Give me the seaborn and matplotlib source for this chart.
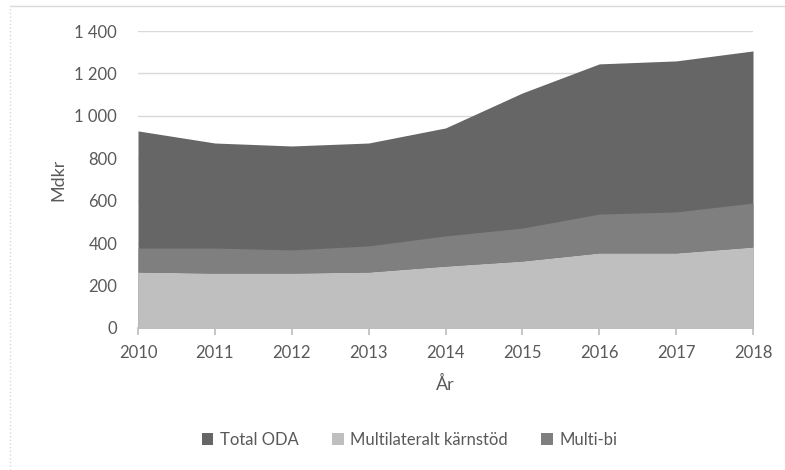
import numpy as np
import pandas as pd
import matplotlib
matplotlib.use("Agg")
import matplotlib.pyplot as plt
import seaborn as sns
from matplotlib.ticker import FuncFormatter
from matplotlib.lines import Line2D
from matplotlib.patches import Patch

# data (Mdkr)
years = [2010, 2011, 2012, 2013, 2014, 2015, 2016, 2017, 2018]
total_oda = [929, 872, 858, 872, 943, 1108, 1245, 1259, 1306]
multilateralt = [264, 259, 259, 264, 292, 316, 354, 354, 382]
multi_bi = [113, 118, 109, 123, 142, 155, 183, 193, 207]

labels = ['Total ODA', 'Multilateralt kärnstöd', 'Multi-bi']
colors = ['#666666', '#bfbfbf', '#7f7f7f']

df = pd.DataFrame({'year': years, 'total': total_oda,
                   'multi': multilateralt, 'multibi': multi_bi})

sns.set_theme(style='white')
plt.rcParams['font.family'] = ['Lato', 'DejaVu Sans']
text_col = '#595959'

fig = plt.figure(figsize=(7.85, 4.70), dpi=100)
ax = fig.add_axes([138 / 785, 1 - 328 / 470, (753 - 138) / 785, (328 - 31) / 470])

ax.fill_between(df['year'], 0, df['total'], color=colors[0], lw=0, zorder=2)
ax.stackplot(df['year'], df['multi'], df['multibi'],
             colors=[colors[1], colors[2]], lw=0, zorder=3)

ax.set_xlim(2010, 2018)
ax.set_ylim(0, 1400)
ax.set_xticks(years)
ax.set_yticks(range(0, 1401, 200))
ax.yaxis.set_major_formatter(FuncFormatter(lambda v, p: f'{int(v):,}'.replace(',', ' ')))
ax.grid(axis='y', color='#d9d9d9', lw=1, zorder=0)
ax.grid(axis='x', visible=False)

for s in ['top', 'right', 'left']:
    ax.spines[s].set_visible(False)
ax.spines['bottom'].set_color('#bfbfbf')
ax.spines['bottom'].set_zorder(5)

ax.tick_params(axis='x', which='major', bottom=True, length=5, color='#bfbfbf',
               labelsize=12, labelcolor=text_col, pad=7)
ax.tick_params(axis='y', left=False, labelsize=12, labelcolor=text_col, pad=9)

ax.set_xlabel('År', fontsize=13, color=text_col, labelpad=11)
ax.set_ylabel('Mdkr', fontsize=13, color=text_col, labelpad=6)

handles = [Patch(facecolor=c, edgecolor='none') for c in colors]
fig.legend(handles, labels, loc='center', bbox_to_anchor=(0.522, 1 - 440 / 470),
           ncol=3, frameon=False, fontsize=12, labelcolor=text_col,
           handlelength=0.7, handleheight=0.7, handletextpad=0.4, columnspacing=2.0)

# chart frame
fig.add_artist(Line2D([10 / 785, 1], [1 - 6 / 470, 1 - 6 / 470], color='#d9d9d9', lw=1))
fig.add_artist(Line2D([10 / 785, 10 / 785], [0, 1 - 6 / 470], color='#d9d9d9', lw=1, ls=':'))

fig.savefig('out.png', dpi=100)
